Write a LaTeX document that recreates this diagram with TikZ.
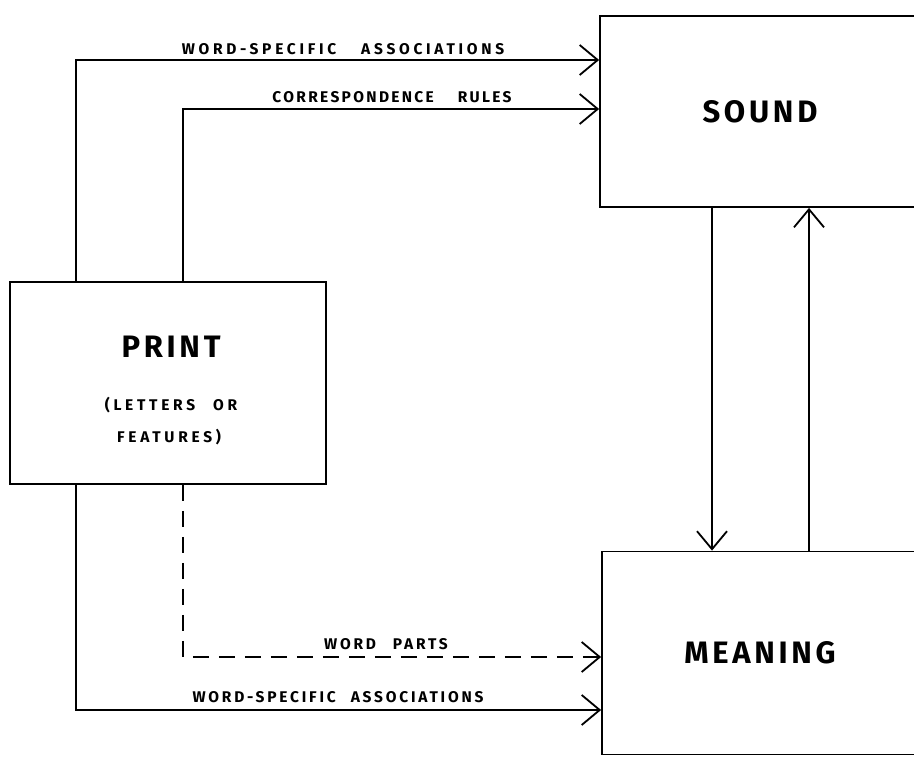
\documentclass[tikz,border=0pt]{standalone}
\usepackage{fontspec}
\setmainfont{Fira Sans}
\newfontfamily\lblfont{Fira Sans}[LetterSpace=24]
\newfontfamily\lblfontb{Fira Sans}[LetterSpace=18]
\newfontfamily\lblfontc{Fira Sans}[LetterSpace=15]
\newfontfamily\ttlfont{Fira Sans}[LetterSpace=12]
\usetikzlibrary{arrows.meta}
\begin{document}
\begin{tikzpicture}[x=1pt,y=-1pt,
  line width=1.8pt,
  box/.style={draw, rectangle, inner sep=0pt,
    font={\ttlfont\bfseries\fontsize{31}{31}\selectfont}},
  ttl/.style={inner sep=0pt, font={\ttlfont\bfseries\fontsize{31}{31}\selectfont}},
  sub/.style={inner sep=0pt, font={\lblfont\bfseries\fontsize{15.5}{15.5}\selectfont}},
  lbl/.style={inner sep=0pt, font={\lblfont\bfseries\fontsize{15.5}{15.5}\selectfont}},
  lblb/.style={inner sep=0pt, font={\lblfontb\bfseries\fontsize{15.5}{15.5}\selectfont}},
  lblc/.style={inner sep=0pt, font={\lblfontc\bfseries\fontsize{15.5}{15.5}\selectfont}},
  conn/.style={-{Straight Barb[length=18pt,width=30pt,line width=1.8pt]}},
  dashconn/.style={conn, dash pattern=on 16pt off 10pt}
]
\useasboundingbox (0,0) rectangle (914,757);

% the three boxes
\node[box, minimum width=320pt, minimum height=191pt] (sound) at (760,111.5) {SOUND};
\node[box, minimum width=316pt, minimum height=203pt] (meaning) at (760,653) {MEANING};
\node[box, minimum width=316pt, minimum height=202pt] (print) at (168,383) {};
\node[ttl] (printttl) at (171,347) {PRINT};
\node[sub] (printsub1) at (171,405) {(LETTERS\hspace{18pt}OR};
\node[sub] (printsub2) at (169,437) {FEATURES)};

% routing columns and rows
\coordinate (xa) at (76,0);
\coordinate (xb) at (183,0);
\coordinate (xd) at (712,0);
\coordinate (xu) at (809,0);
\coordinate (ya) at (0,60);
\coordinate (yb) at (0,109);
\coordinate (yc) at (0,657);
\coordinate (yd) at (0,710);

% connectors
\draw[conn] (print.north -| xa) -- (xa |- ya) -- (sound.west |- ya);
\draw[conn] (print.north -| xb) -- (xb |- yb) -- (sound.west |- yb);
\draw[dashconn] (print.south -| xb) -- (xb |- yc) -- (meaning.west |- yc);
\draw[conn] (print.south -| xa) -- (xa |- yd) -- (meaning.west |- yd);
\draw[conn] (sound.south -| xd) -- (meaning.north -| xd);
\draw[conn] (meaning.north -| xu) -- (sound.south -| xu);

% connector labels
\node[lbl] (l1) at (343,49) {WORD-SPECIFIC\hspace{25pt}ASSOCIATIONS};
\node[lblc] (l2) at (392,97) {CORRESPONDENCE\hspace{24pt}RULES};
\node[lblb] (l3) at (386,644) {WORD\hspace{17pt}PARTS};
\node[lblb] (l4) at (338,697) {WORD-SPECIFIC\hspace{15pt}ASSOCIATIONS};
\end{tikzpicture}
\end{document}
